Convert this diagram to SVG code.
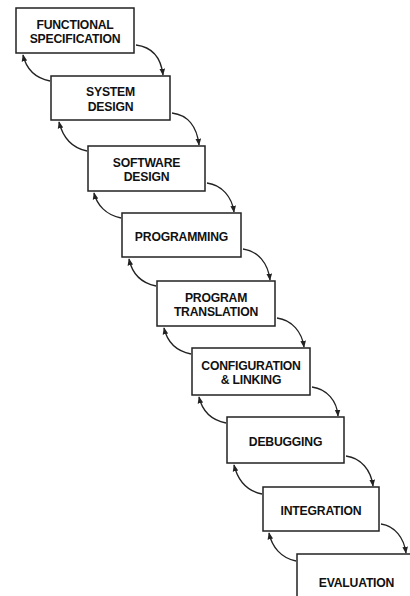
<svg xmlns="http://www.w3.org/2000/svg" width="410" height="596" viewBox="0 0 410 596">
<style>
.box{fill:#fff;stroke:#222;stroke-width:1.5}
.t{font-family:"Liberation Sans",Arial,sans-serif;font-weight:bold;font-size:12.2px;fill:#111;text-anchor:middle;letter-spacing:-0.2px}
.c{fill:none;stroke:#222;stroke-width:1.3;marker-end:url(#ah)}
</style>
<defs>
<marker id="ah" viewBox="0 0 10 10" refX="9" refY="5" markerWidth="7" markerHeight="7" markerUnits="userSpaceOnUse" orient="auto">
<path d="M0,1 L10,5 L0,9 Z" fill="#222"/>
</marker>
</defs>
<rect width="410" height="596" fill="#fff"/>
<g id="n1"><rect class="box" x="16" y="8" width="118" height="45"/><text class="t" x="75" y="29">FUNCTIONAL</text><text class="t" x="75" y="43">SPECIFICATION</text></g>
<g id="n2"><rect class="box" x="51" y="76" width="119" height="44"/><text class="t" x="110.5" y="96">SYSTEM</text><text class="t" x="110.5" y="110.5">DESIGN</text></g>
<g id="n3"><rect class="box" x="88" y="146" width="117" height="45"/><text class="t" x="146.5" y="166.5">SOFTWARE</text><text class="t" x="146.5" y="181">DESIGN</text></g>
<g id="n4"><rect class="box" x="122" y="213" width="119" height="44"/><text class="t" x="181.5" y="241">PROGRAMMING</text></g>
<g id="n5"><rect class="box" x="157" y="281" width="118" height="45"/><text class="t" x="216" y="301.5">PROGRAM</text><text class="t" x="216" y="316">TRANSLATION</text></g>
<g id="n6"><rect class="box" x="192" y="348" width="118" height="47"/><text class="t" x="251" y="369.5">CONFIGURATION</text><text class="t" x="251" y="384">&amp; LINKING</text></g>
<g id="n7"><rect class="box" x="227" y="417" width="117" height="46"/><text class="t" x="285.5" y="445.5">DEBUGGING</text></g>
<g id="n8"><rect class="box" x="263" y="487" width="116" height="44"/><text class="t" x="321" y="514.5">INTEGRATION</text></g>
<g id="n9"><rect class="box" x="297" y="554" width="119" height="46"/><text class="t" x="356.5" y="587">EVALUATION</text></g>
<g id="connectors">
<path class="c" d="M136,45 C152,47 161,58 163,75"/>
<path class="c" d="M50,81 C35,78 26,68 23,55"/>
<path class="c" d="M172,113 C188,115 197,127 199,145"/>
<path class="c" d="M87,151 C72,148 63,138 59,122"/>
<path class="c" d="M207,183 C222,185 232,197 234,212"/>
<path class="c" d="M121,218 C106,215 97,205 94,193"/>
<path class="c" d="M243,249 C258,251 268,263 270,280"/>
<path class="c" d="M156,286 C141,283 132,273 129,259"/>
<path class="c" d="M277,318 C292,320 302,332 304,347"/>
<path class="c" d="M191,354 C176,351 167,341 164,328"/>
<path class="c" d="M312,387 C327,389 337,401 338,416"/>
<path class="c" d="M226,423 C211,420 202,410 199,397"/>
<path class="c" d="M346,456 C361,458 371,470 373,486"/>
<path class="c" d="M262,494 C247,491 238,481 234,465"/>
<path class="c" d="M381,524 C395,526 404,538 406,553"/>
<path class="c" d="M296,561 C281,558 272,547 269,533"/>
</g>
</svg>
